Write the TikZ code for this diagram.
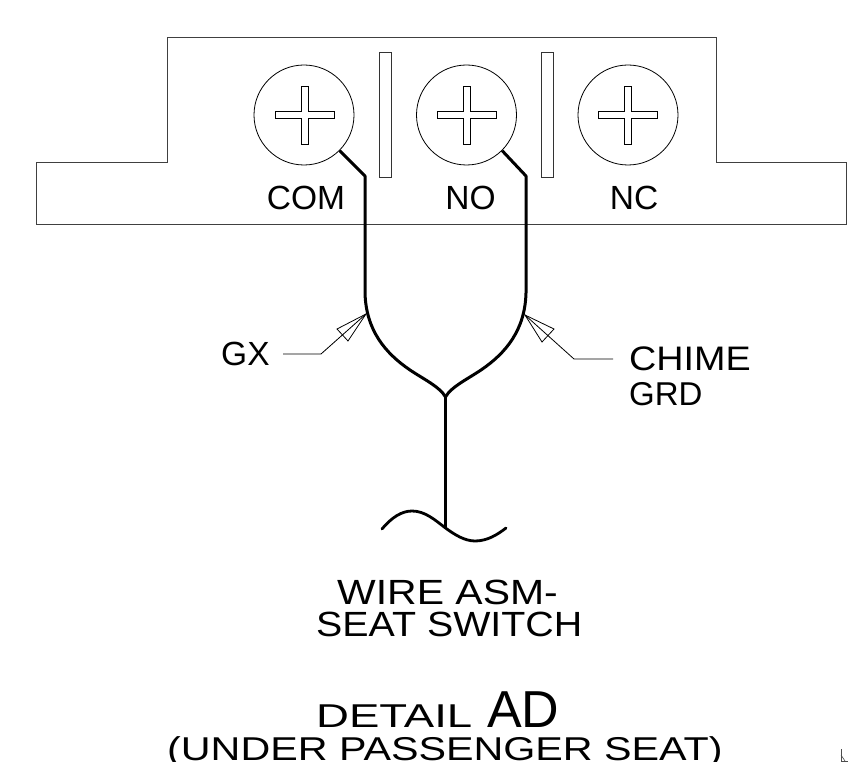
\documentclass[tikz,border=0pt]{standalone}
\usepackage{fontspec}
\setmainfont{Liberation Sans}
\newcommand{\wtext}[3]{\scalebox{#1}[1]{\fontsize{#2}{#2}\selectfont #3}}
\tikzset{
  outline/.style={draw=black!75,line width=1pt,line join=miter},
  thinline/.style={draw=black,line width=0.8pt},
  wire/.style={draw=black,line width=3pt,line join=round},
  lbl/.style={inner sep=0pt,anchor=base,font=\fontsize{33.5}{33.5}\selectfont},
  txt/.style={inner sep=0pt,anchor=base west},
  screw/.style={circle,draw=black,line width=0.8pt,minimum size=100pt,inner sep=0pt},
  crosshead/.style={thinline,fill=white},
  barbox/.style={rectangle,draw=black!80,line width=0.9pt,minimum width=12pt,minimum height=125pt,inner sep=0pt}
}
\newcommand{\crossat}[2]{%
  \draw[crosshead] (#1-3.5,#2-29) -- (#1+3.5,#2-29) -- (#1+3.5,#2-3.5) -- (#1+29.5,#2-3.5) -- (#1+29.5,#2+3.5) -- (#1+3.5,#2+3.5) -- (#1+3.5,#2+29) -- (#1-3.5,#2+29) -- (#1-3.5,#2+3.5) -- (#1-29.5,#2+3.5) -- (#1-29.5,#2-3.5) -- (#1-3.5,#2-3.5) -- cycle;}
\begin{document}
\begin{tikzpicture}[x=1pt,y=-1pt]
\useasboundingbox (0,0) rectangle (851,762);
\draw[outline] (36,224.5) -- (846.5,224.5) -- (846.5,162.5) -- (716,162.5) -- (716,38) -- (167,38) -- (167,162.5) -- (36,162.5) -- cycle;
\node[screw] (s1) at (304,115) {};
\node[screw] (s2) at (466.5,115) {};
\node[screw] (s3) at (628,115) {};
\crossat{304.5}{115}\crossat{466.5}{115}\crossat{628}{115}
\node[barbox] (b1) at (385.2,115.2) {};
\node[barbox] (b2) at (547.2,115.2) {};
\node[lbl] (com) at (306,209.5) {COM};
\node[lbl] (no) at (470.5,209.5) {NO};
\node[lbl] (nc) at (634,209.5) {NC};
\coordinate (j) at (445.5,397);
\coordinate (wb) at (445.5,528);
\draw[wire] (s1.-45) -- (365,176) -- (365,293) .. controls (366,330) and (385,353) .. (410,370) .. controls (425,380) and (440,387) .. (j);
\draw[wire] (s2.-45) -- (526,176) -- (526,293) .. controls (525,330) and (506,353) .. (481,370) .. controls (466,380) and (451,387) .. (j);
\draw[wire] (j) -- (wb);
\draw[draw=black,line width=2.8pt,line cap=round] (382,529) .. controls (392,517) and (402,511) .. (412,511) .. controls (425,511) and (435,520) .. (wb) .. controls (455,535) and (465,541) .. (475,541) .. controls (487,541) and (497,535) .. (506,528);
\node[lbl,anchor=base west] (gx) at (221,365) {GX};
\coordinate (ltip) at (366,314);
\coordinate (la) at (337,329);
\coordinate (lb) at (348,341);
\coordinate (lk) at (321,354);
\coordinate (ls) at (283,354);
\draw[thinline,line join=miter] (ltip) -- (la) -- (lb) -- cycle;
\draw[thinline] (ltip) -- (lk) -- (ls);
\coordinate (rtip) at (525,315);
\coordinate (ra) at (554,329);
\coordinate (rb) at (542,342);
\coordinate (rk) at (574,359);
\coordinate (rs) at (613,359);
\draw[thinline,line join=miter] (rtip) -- (ra) -- (rb) -- cycle;
\draw[thinline] (rtip) -- (rk) -- (rs);
\node[txt] (chime) at (629,370) {\wtext{1.11}{34}{CHIME}};
\node[txt] (grd) at (629,405) {\wtext{1}{33}{GRD}};
\node[txt] (wire1) at (337,604) {\wtext{1.17}{35}{WIRE ASM-}};
\node[txt] (wire2) at (316,636) {\wtext{1.125}{35}{SEAT SWITCH}};
\node[txt] (det) at (316,727) {\wtext{1.38}{33}{DETAIL}};
\node[txt] (ad) at (487,727) {\wtext{1}{52}{AD}};
\node[txt] (under) at (167,760.5) {\wtext{1.25}{33}{(UNDER PASSENGER SEAT)}};
\draw[draw=black!70,line width=0.6pt] (841,749) -- (841,761) -- (848,761);
\draw[draw=black!70,line width=0.6pt] (841,755) -- (845,761);
\end{tikzpicture}
\end{document}
